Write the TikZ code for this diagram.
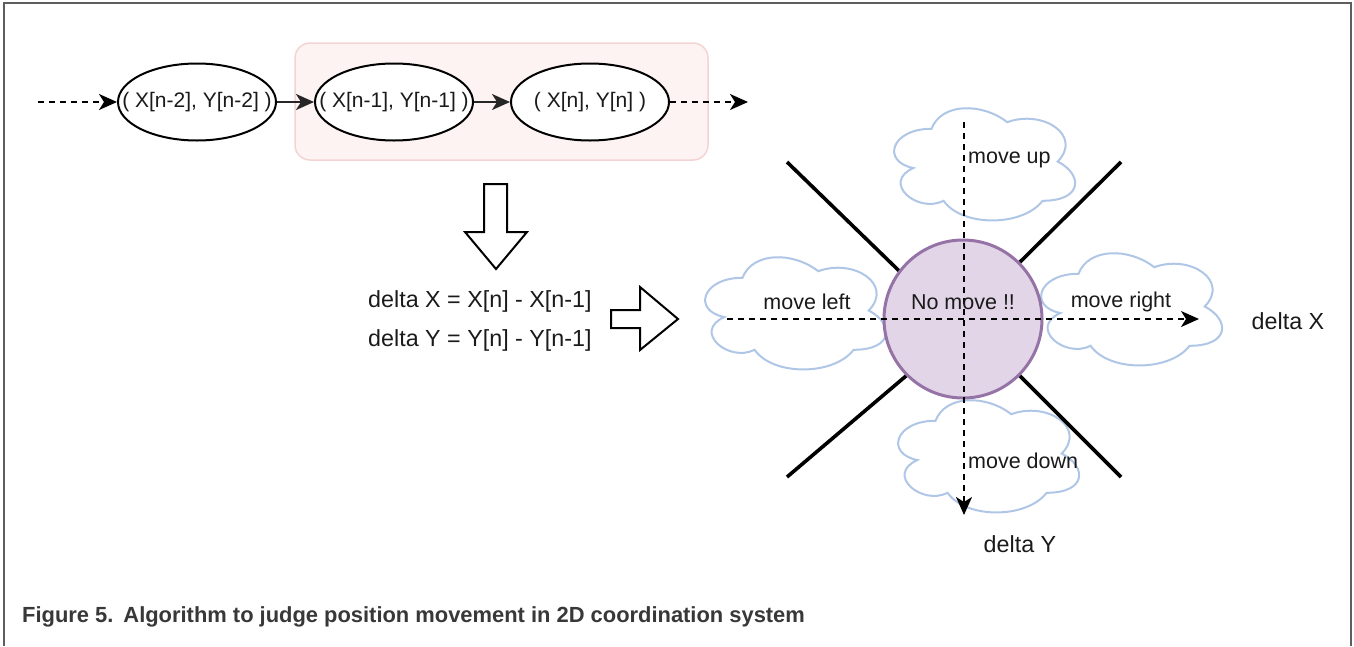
\documentclass[tikz,border=0pt]{standalone}
\usepackage{fontspec}
\setmainfont{Liberation Sans}
\usetikzlibrary{arrows.meta,shapes.geometric}
\definecolor{framegray}{HTML}{5E5E5E}
\definecolor{pinkfill}{HTML}{FDF3F2}
\definecolor{pinkdraw}{HTML}{F4D4D3}
\definecolor{purplefill}{HTML}{E1D5E7}
\definecolor{purpledraw}{HTML}{9673A6}
\definecolor{clouddraw}{HTML}{AFC6E6}
\definecolor{txt}{HTML}{1A1A1A}
\definecolor{captxt}{HTML}{383838}
\newcommand\drawcloud[2]{%
  \draw[cloudsty, shift={(#1,#2)}, xscale=202, yscale=131]
    (0.25,0.25) .. controls (0.05,0.25) and (0,0.5) .. (0.16,0.55)
    .. controls (0,0.66) and (0.18,0.9) .. (0.31,0.8)
    .. controls (0.4,1) and (0.7,1) .. (0.8,0.8)
    .. controls (1,0.8) and (1,0.6) .. (0.875,0.5)
    .. controls (1,0.3) and (0.8,0.1) .. (0.625,0.2)
    .. controls (0.5,0.05) and (0.3,0.05) .. (0.25,0.25) -- cycle;}
\newcommand\ztext[1]{\makebox[0pt]{#1}}
\begin{document}
\begin{tikzpicture}[x=1pt,y=-1pt,
  tip/.style={-{Stealth[length=18pt,width=16pt,inset=5pt]}},
  dashedline/.style={line width=2pt, dash pattern=on 6pt off 5pt, black},
  solidline/.style={line width=2pt, black!85},
  ell/.style={ellipse, draw=black, line width=2pt, fill=white, minimum width=158pt, minimum height=77pt, inner sep=0pt, text=txt, font=\fontsize{21}{25}\selectfont},
  cloudsty/.style={draw=clouddraw, line width=2pt, fill=white},
  lbl/.style={text=txt, inner sep=0pt, font=\fontsize{21.5}{25}\selectfont},
  biglbl/.style={text=txt, inner sep=0pt, font=\fontsize{23.3}{27}\selectfont},
  hollow/.style={draw=black, line width=2pt, fill=white, line join=miter},
  diag/.style={line width=3.6pt, black}]
\useasboundingbox (0,0) rectangle (1354,646);
% frame
\draw[framegray, line width=2.5pt] (4,646) -- (4,3) -- (1351,3) -- (1351,646);
% pink group
\draw[draw=pinkdraw, fill=pinkfill, line width=1.5pt, rounded corners=15pt] (295,43) rectangle (708,160);
% sequence
\node[ell] (e1) at (197,102) {\ztext{( X[n-2], Y[n-2] )}};
\node[ell] (e2) at (394,102) {\ztext{( X[n-1], Y[n-1] )}};
\node[ell] (e3) at (590,102) {\ztext{( X[n], Y[n] )}};
\coordinate (inS) at (38,102);
\coordinate (outE) at (748,102);
\draw[dashedline, tip] (inS) -- (e1.west);
\draw[solidline, tip] (e1.east) -- (e2.west);
\draw[solidline, tip] (e2.east) -- (e3.west);
\draw[dashedline, tip] (e3.east) -- (outE);
% hollow arrows
\draw[hollow] (484,184) -- (507,184) -- (507,232) -- (527,232) -- (496,269) -- (465,232) -- (484,232) -- cycle;
\draw[hollow] (611,310) -- (640,310) -- (640,287) -- (678,319) -- (640,350) -- (640,328) -- (611,328) -- cycle;
% formulas
\node[biglbl, anchor=west] (dx) at (368,301) {delta X = X[n] - X[n-1]};
\node[biglbl, anchor=west] (dy) at (368,340) {delta Y = Y[n] - Y[n-1]};
% clouds
\drawcloud{881}{96}
\drawcloud{692}{245}
\drawcloud{1028}{241}
\drawcloud{885}{388}
% diagonals
\node[circle, minimum size=160pt, inner sep=0pt] (cpos) at (963,319) {};
\draw[diag] (787,162) -- (cpos.143);
\draw[diag] (1121,162) -- (cpos.45);
\draw[diag] (787,477) -- (cpos.225);
\draw[diag] (1121,477) -- (cpos.315);
% circle
\node[circle, draw=purpledraw, fill=purplefill, line width=3pt, minimum size=158pt, inner sep=0pt] (c) at (963,319) {};
% axes
\coordinate (hs) at (727,319);
\coordinate (he) at (1199,319);
\coordinate (vs) at (964,122);
\coordinate (ve) at (964,515);
\draw[dashedline, tip] (hs) -- (he);
\draw[dashedline, tip] (vs) -- (ve);
% labels
\node[lbl, anchor=west] (up) at (968,160) {move up};
\node[lbl, anchor=west] (down) at (968,461) {move down};
\node[lbl] (left) at (807,302) {move left};
\node[lbl] (right) at (1121,302) {move right};
\node[lbl] (nomove) at (963,302) {No move !!};
\node[biglbl] (lx) at (1288,321) {delta X};
\node[biglbl] (ly) at (1020,544) {delta Y};
% caption
\node[anchor=west, inner sep=0pt, text=captxt, font=\bfseries\fontsize{21.9}{26}\selectfont] (cap) at (22,617) {Figure 5.\hspace{10pt}Algorithm to judge position movement in 2D coordination system};
\end{tikzpicture}
\end{document}
